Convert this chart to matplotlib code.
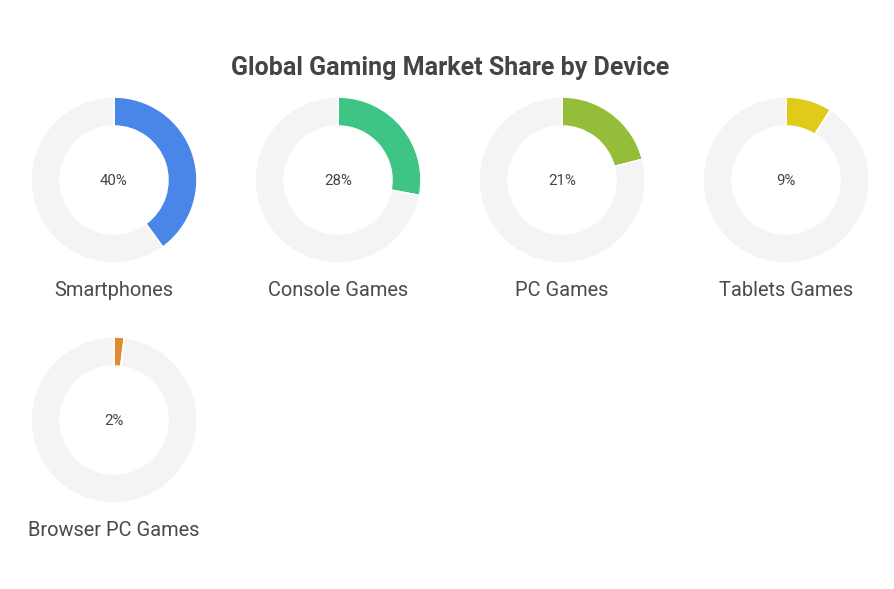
import matplotlib
matplotlib.use("Agg")
import matplotlib.pyplot as plt

plt.rcParams['font.family'] = ['Roboto', 'DejaVu Sans']

categories = ["Smartphones", "Console Games", "PC Games", "Tablets Games", "Browser PC Games"]
shares = [40, 28, 21, 9, 2]
colors = ["#4A86E8", "#3EC484", "#94BE3A", "#E1CB1A", "#E08A33"]
rest_color = "#F4F4F4"
title = "Global Gaming Market Share by Device"

W, H = 894, 589
fig = plt.figure(figsize=(W / 100, H / 100), dpi=100)
fig.patch.set_facecolor("white")

fig.text(450 / W, 1 - 68 / H, title, ha="center", va="center",
         fontsize=18, fontweight="bold", color="#444444")

centers_x = [114, 338, 562, 786]
centers_y = [180, 420]
R = 83

for i, (cat, val, col) in enumerate(zip(categories, shares, colors)):
    cx = centers_x[i % 4]
    cy = centers_y[i // 4]
    ax = fig.add_axes([(cx - R - 2) / W, 1 - (cy + R + 2) / H, (2 * R + 4) / W, (2 * R + 4) / H])
    ax.pie([val, 100 - val], colors=[col, rest_color], startangle=90, counterclock=False,
           radius=R / (R + 2),
           wedgeprops=dict(width=0.35 * R / (R + 2), edgecolor="white", linewidth=1.2))
    ax.set_xlim(-1, 1)
    ax.set_ylim(-1, 1)
    ax.set_aspect("equal")
    ax.axis("off")
    ax.text(0, -0.015, f"{val}%", ha="center", va="center", fontsize=10.8, color="#444444")
    fig.text(cx / W, 1 - (cy + 110) / H, cat, ha="center", va="center",
             fontsize=14.4, color="#4a4a4a")

fig.savefig("out.png", dpi=100, facecolor="white")
